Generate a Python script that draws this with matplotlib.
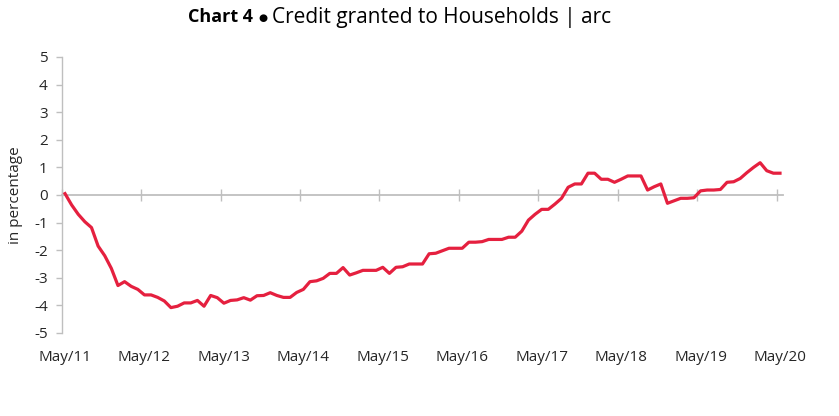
import matplotlib
matplotlib.use("Agg")
import matplotlib.pyplot as plt
import numpy as np

plt.rcParams['font.family'] = ['Open Sans', 'DejaVu Sans']

# Monthly data, May/11 .. May/20 (annual rate of change, %)
values = [
    0.05, -0.36, -0.70, -0.97, -1.18, -1.85, -2.20, -2.66, -3.28, -3.14,
    -3.31, -3.42, -3.62, -3.62, -3.71, -3.84, -4.08, -4.03, -3.91, -3.91,
    -3.82, -4.03, -3.64, -3.72, -3.92, -3.82, -3.80, -3.72, -3.81, -3.65,
    -3.64, -3.54, -3.64, -3.71, -3.71, -3.53, -3.42, -3.14, -3.11, -3.02,
    -2.84, -2.84, -2.63, -2.90, -2.82, -2.73, -2.73, -2.73, -2.62, -2.84,
    -2.62, -2.60, -2.50, -2.50, -2.50, -2.13, -2.11, -2.02, -1.93, -1.93,
    -1.93, -1.71, -1.71, -1.69, -1.61, -1.61, -1.61, -1.53, -1.53, -1.31,
    -0.91, -0.70, -0.52, -0.52, -0.33, -0.12, 0.28, 0.40, 0.40, 0.79,
    0.79, 0.57, 0.57, 0.46, 0.57, 0.69, 0.69, 0.69, 0.18, 0.30,
    0.40, -0.30, -0.21, -0.12, -0.12, -0.10, 0.15, 0.18, 0.18, 0.20,
    0.46, 0.48, 0.60, 0.81, 1.00, 1.17, 0.88, 0.79, 0.79,
]
tick_labels = ['May/11', 'May/12', 'May/13', 'May/14', 'May/15',
               'May/16', 'May/17', 'May/18', 'May/19', 'May/20']
y_ticks = [5, 4, 3, 2, 1, 0, -1, -2, -3, -4, -5]

line_color = '#E5203F'
axis_color = '#BFBFBF'
text_color = '#262626'

fig = plt.figure(figsize=(8.39, 4.16), dpi=100)
ax = fig.add_axes([61.7 / 839, 1 - 333 / 416, (783.3 - 61.7) / 839, (333 - 57) / 416])

x = np.arange(len(values))
ax.plot(x, values, color=line_color, lw=2.3, solid_joinstyle='round', zorder=3)

ax.set_xlim(-0.5, len(values) - 0.5)
ax.set_ylim(-5, 5)

# y axis
ax.set_yticks(y_ticks)
ax.set_yticklabels([str(v) for v in y_ticks])
ax.tick_params(axis='y', direction='out', length=4, width=1, color=axis_color,
               labelsize=11, labelcolor=text_color, pad=6)
ax.spines['left'].set_color(axis_color)
ax.spines['left'].set_linewidth(1)
ax.spines['top'].set_visible(False)
ax.spines['right'].set_visible(False)

# x axis line at zero with tick marks between categories
ax.spines['bottom'].set_position(('data', 0))
ax.spines['bottom'].set_color(axis_color)
ax.spines['bottom'].set_linewidth(1.3)
ax.set_xticks(np.arange(-0.5, len(values), 12))
ax.tick_params(axis='x', direction='inout', length=9, width=1, color=axis_color,
               labelbottom=False)

# category labels at the bottom of the plot area
sec = ax.secondary_xaxis(0.0)
sec.set_xticks(np.arange(0, len(values), 12))
sec.set_xticklabels(tick_labels)
sec.tick_params(axis='x', length=0, labelsize=11, labelcolor=text_color, pad=12)
sec.spines['bottom'].set_visible(False)

ax.set_ylabel('in percentage', fontsize=11, color=text_color, labelpad=8)

# title: bold part, bullet, normal part
ty = 1 - 17 / 416
fig.text(188 / 839, ty, 'Chart 4', fontsize=13, fontweight='bold', color='black', va='center')
fig.text(263 / 839, ty - 1 / 416, '\u25CF', fontsize=7.5, color='black', va='center', ha='center',
         family='DejaVu Sans')
fig.text(272 / 839, ty, 'Credit granted to Households | arc', fontsize=15,
         color='black', va='center')

fig.savefig('out.png', dpi=100)
